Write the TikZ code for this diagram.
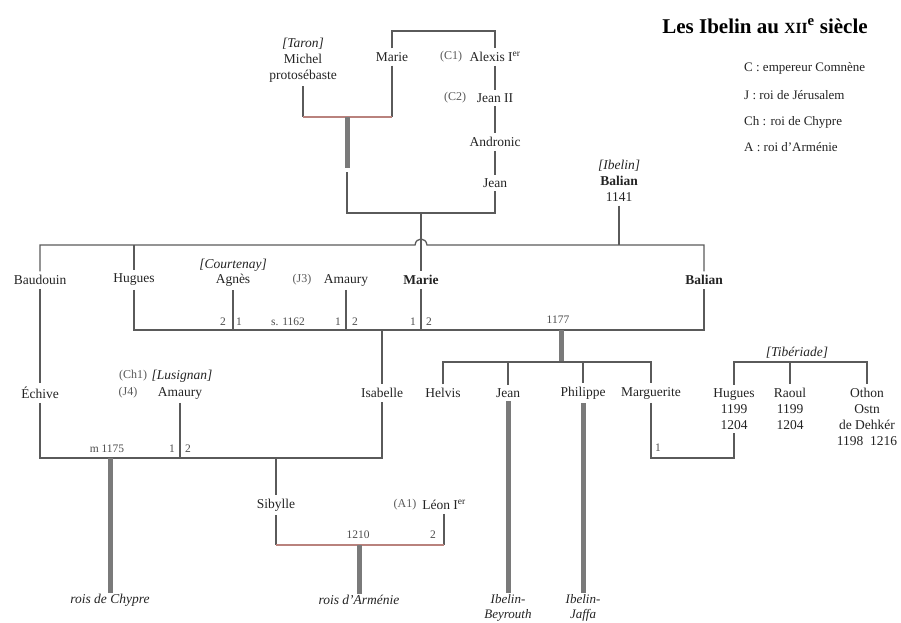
\documentclass[tikz,border=0pt]{standalone}
\usepackage{fontspec}
\setmainfont{Liberation Serif}
\usetikzlibrary{positioning}
\definecolor{linegray}{RGB}{90,90,90}
\definecolor{bargray}{RGB}{122,122,122}
\definecolor{wedred}{RGB}{185,130,125}
\definecolor{inkgray}{RGB}{35,35,35}

\begin{document}
\begin{tikzpicture}[x=1pt,y=-1pt,
    name node/.style={font=\fontsize{13.5}{16}\selectfont,text=inkgray,inner sep=1pt,outer sep=3pt,align=center},
    house/.style={font=\fontsize{13.5}{16}\selectfont\itshape,text=inkgray,inner sep=1pt},
    reign/.style={font=\fontsize{12}{14}\selectfont,text=black!65,inner sep=1pt},
    num/.style={font=\fontsize{11.5}{13}\selectfont,text=black!70,inner sep=1pt},
    legend/.style={font=\fontsize{13}{15}\selectfont,text=inkgray,anchor=west,inner sep=0pt},
    link/.style={draw=linegray,line width=1.3pt},
    wed link/.style={draw=wedred,line width=1.3pt},
    thick bar/.style={draw=bargray,line width=5pt}
  ]
  \useasboundingbox (0,0) rectangle (901,622);

  % title and legend
  \node[font=\fontsize{21}{24}\selectfont\bfseries] (title) at (765,26)
    {Les Ibelin au {\fontsize{15.5}{16}\selectfont XII}\textsuperscript{e} siècle};
  \node[legend] (legC) at (744,68) {C : empereur Comnène};
  \node[legend] (legJ) at (744,95) {J : roi de Jérusalem};
  \node[legend] (legCh) at (744,122) {Ch : roi de Chypre};
  \node[legend] (legA) at (744,147) {A : roi d'Arménie};

  % Comnenes
  \node[name node] (michel) at (303,60) {\textit{[Taron]}\\Michel\\protosébaste};
  \node[name node] (marieK) at (392,57) {Marie};
  \node[name node] (alexis) at (495,57) {Alexis I\textsuperscript{er}};
  \node[reign] (tagC1) at (451,57) {(C1)};
  \node[name node] (jeanII) at (495,98) {Jean II};
  \node[reign] (tagC2) at (455,98) {(C2)};
  \node[name node] (andronic) at (495,142) {Andronic};
  \node[name node] (jeanK) at (495,183) {Jean};
  \node[name node] (balianA) at (619,181) {\textit{[Ibelin]}\\\textbf{Balian}\\1141};

  \coordinate (top) at (0,31);
  \coordinate (bar0) at (0,117);
  \coordinate (cTaron) at (347,117);
  \coordinate (sTaron) at (347,172);
  \coordinate (j1) at (347,213);

  \draw[link] (marieK) -- (marieK |- top) -| (alexis);
  \path (alexis) edge[link] (jeanII)
        (jeanII) edge[link] (andronic)
        (andronic) edge[link] (jeanK);
  \draw[link] (michel) -- (michel |- bar0);
  \draw[link] (marieK) -- (marieK |- bar0);
  \draw[wed link] (michel |- bar0) -- (marieK |- bar0);
  \draw[thick bar] (cTaron) -- ++(0,51);
  \draw[link] (sTaron) -- (j1) -| (jeanK);

  % second generation
  \node[name node] (baudouin) at (40,280) {Baudouin};
  \node[name node] (hugues) at (134,280) {Hugues};
  \node[name node] (agnes) at (233,280) {Agnès};
  \node[house] (courtenay) at (233,265) {[Courtenay]};
  \node[reign] (tagJ3) at (302,280) {(J3)};
  \node[name node] (amaury) at (346,280) {Amaury};
  \node[name node] (marieB) at (421,280) {\textbf{Marie}};
  \node[name node] (balianB) at (704,280) {\textbf{Balian}};

  \coordinate (bar1) at (0,245);
  \coordinate (bar2) at (0,330);

  \draw[link] (marieB |- j1) -- (marieB);
  \draw[link] (baudouin) -- (baudouin |- bar1) -- (415,245)
    .. controls (416,237) and (426,237) .. (427,245) -- (balianB |- bar1) -- (balianB);
  \draw[link] (hugues |- bar1) -- (hugues);
  \draw[link] (balianA) -- (balianA |- bar1);

  \draw[link] (hugues) -- (hugues |- bar2) -| (balianB);
  \draw[link] (agnes) -- (agnes |- bar2);
  \draw[link] (amaury) -- (amaury |- bar2);
  \draw[link] (marieB) -- (marieB |- bar2);

  \node[num] (n2a) at (223,322) {2};
  \node[num] (n1a) at (239,322) {1};
  \node[num] (s1162) at (288,322) {s. 1162};
  \node[num] (n1b) at (338,322) {1};
  \node[num] (n2b) at (355,322) {2};
  \node[num] (n1c) at (413,322) {1};
  \node[num] (n2c) at (429,322) {2};
  \node[num] (m1177) at (558,320) {1177};

  % third generation
  \node[name node] (echive) at (40,393) {Échive};
  \node[name node] (amauryL) at (180,393) {Amaury};
  \node[house] (lusignan) at (182,376) {[Lusignan]};
  \node[reign] (tagCh1) at (133,376) {(Ch1)};
  \node[reign] (tagJ4) at (128,393) {(J4)};
  \node[name node] (isabelle) at (382,393) {Isabelle};
  \node[name node] (helvis) at (443,393) {Helvis};
  \node[name node] (jeanB) at (508,393) {Jean};
  \node[name node] (philippe) at (583,393) {Philippe};
  \node[name node] (marguerite) at (651,393) {Marguerite};
  \node[house] (tiberiade) at (797,353) {[Tibériade]};
  \node[name node] (huguesT) at (734,409) {Hugues\\1199\\1204};
  \node[name node] (raoul) at (790,409) {Raoul\\1199\\1204};
  \node[name node] (othon) at (867,417) {Othon\\Ostn\\de Dehkér\\1198~~1216};

  \coordinate (bar3) at (0,362);
  \coordinate (bar4) at (0,458);
  \coordinate (c1177) at (561,330);

  \draw[link] (baudouin) -- (echive);
  \draw[link] (isabelle |- bar2) -- (isabelle);
  \draw[thick bar] (c1177) -- (c1177 |- bar3);
  \draw[link] (helvis) -- (helvis |- bar3) -- (marguerite |- bar3) -- (marguerite);
  \draw[link] (jeanB |- bar3) -- (jeanB);
  \draw[link] (philippe |- bar3) -- (philippe);
  \draw[link] (huguesT) -- (huguesT |- bar3) -- (othon |- bar3) -- (othon);
  \draw[link] (raoul |- bar3) -- (raoul);
  \draw[link] (marguerite) -- (marguerite |- bar4) -| (huguesT);

  \draw[link] (echive) -- (echive |- bar4) -| (isabelle);
  \draw[link] (amauryL) -- (amauryL |- bar4);

  \node[num] (m1175) at (107,449) {m 1175};
  \node[num] (n1d) at (172,449) {1};
  \node[num] (n2d) at (188,449) {2};
  \node[num] (n1e) at (658,448) {1};

  % fourth generation
  \node[name node] (sibylle) at (276,505) {Sibylle};
  \node[reign] (tagA1) at (405,505) {(A1)};
  \node[name node] (leon) at (444,505) {Léon I\textsuperscript{er}};
  \node[num] (m1210) at (358,535) {1210};
  \node[num] (n2f) at (433,535) {2};

  \coordinate (bar5) at (0,545);
  \coordinate (cChypre) at (110,458);
  \coordinate (cArm) at (359,545);

  \draw[link] (sibylle |- bar4) -- (sibylle);
  \draw[link] (sibylle) -- (sibylle |- bar5);
  \draw[link] (leon) -- (leon |- bar5);
  \draw[wed link] (sibylle |- bar5) -- (leon |- bar5);

  \node[house] (chypre) at (110,600) {rois de Chypre};
  \node[house] (armenie) at (359,600) {rois d'Arménie};
  \node[house, align=center, font=\fontsize{13}{15}\selectfont\itshape] (beyrouth) at (508,608) {Ibelin-\\Beyrouth};
  \node[house, align=center, font=\fontsize{13}{15}\selectfont\itshape] (jaffa) at (583,608) {Ibelin-\\Jaffa};

  \draw[thick bar] (cChypre) -- (chypre);
  \draw[thick bar] (cArm) -- (armenie);
  \draw[thick bar] (jeanB) -- (beyrouth);
  \draw[thick bar] (philippe) -- (jaffa);
\end{tikzpicture}
\end{document}
